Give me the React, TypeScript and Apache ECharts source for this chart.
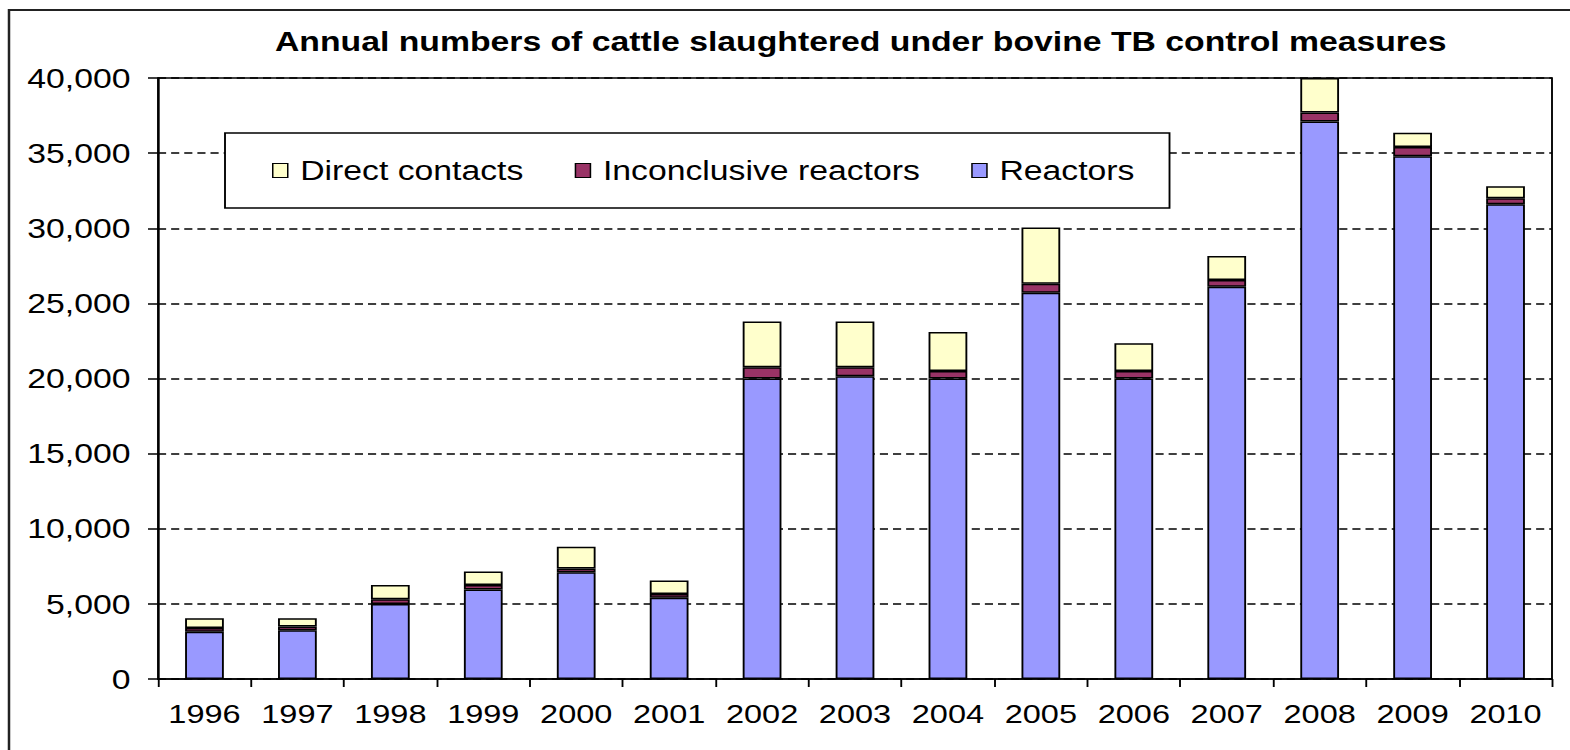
import React, { useEffect, useRef } from "react";
import * as echarts from "echarts";

const years = ["1996", "1997", "1998", "1999", "2000", "2001", "2002", "2003", "2004", "2005", "2006", "2007", "2008", "2009", "2010"];
const reactors = [3150, 3250, 5000, 5950, 7100, 5400, 20000, 20150, 20000, 25700, 20000, 26100, 37100, 34800, 31600];
const inconclusive = [250, 250, 300, 300, 250, 250, 750, 600, 500, 600, 500, 450, 600, 600, 400];
const direct = [650, 550, 950, 900, 1450, 900, 3050, 3050, 2600, 3750, 1850, 1600, 2300, 950, 800];

const TITLE = "Annual numbers of cattle slaughtered under bovine TB control measures";
const FONT = '"Liberation Sans", Arial, sans-serif';
const SX = 1.25;
const W = 1570 / SX;
const H = 750;

export default function App() {
  const ref = useRef<HTMLDivElement>(null);
  useEffect(() => {
    if (!ref.current) return;
    const chart = echarts.init(ref.current, null, { renderer: "svg" });
    const barStyle = (color: string) => ({ color, borderColor: "#000", borderWidth: 1.5 });
    chart.setOption({
      animation: false,
      backgroundColor: "#fff",
      textStyle: { fontFamily: FONT, color: "#000" },
      title: {
        text: TITLE,
        left: 220,
        top: 28,
        padding: 0,
        textStyle: { fontFamily: FONT, fontSize: 27, fontWeight: "bold", color: "#000" },
      },
      graphic: [
        {
          type: "rect",
          silent: true,
          shape: { x: 7.2, y: 10, width: 1400, height: 900 },
          style: { fill: "none", stroke: "#222", lineWidth: 2 },
        },
      ],
      legend: {
        data: ["Direct contacts", "Inconclusive reactors", "Reactors"],
        left: 180,
        top: 133,
        orient: "horizontal",
        padding: [24, 28, 24, 37.6],
        itemGap: 41,
        itemWidth: 12,
        itemHeight: 14,
        backgroundColor: "#fff",
        borderColor: "#000",
        borderWidth: 1.5,
        borderRadius: 0,
        icon: "rect",
        itemStyle: { borderColor: "#000", borderWidth: 1.2 },
        textStyle: { fontFamily: FONT, fontSize: 27, color: "#000", padding: [0, 0, 0, 5] },
      },
      grid: {
        left: 126.4,
        right: W - 1241.6,
        top: 78,
        bottom: H - 679,
        show: true,
        borderColor: "#000",
        borderWidth: 1.5,
        backgroundColor: "transparent",
      },
      xAxis: {
        type: "category",
        data: years,
        axisLine: { show: true, lineStyle: { color: "#000", width: 1.5 } },
        axisTick: { show: true, length: 8, alignWithLabel: false, lineStyle: { color: "#000", width: 1.5 } },
        axisLabel: { fontFamily: FONT, fontSize: 26, color: "#000", margin: 22, interval: 0 },
        splitLine: { show: false },
      },
      yAxis: {
        type: "value",
        min: 0,
        max: 40000,
        interval: 5000,
        axisLine: { show: true, lineStyle: { color: "#000", width: 1.5 } },
        axisTick: { show: true, length: 8, lineStyle: { color: "#000", width: 1.5 } },
        axisLabel: {
          fontFamily: FONT,
          fontSize: 27,
          color: "#000",
          margin: 22,
          formatter: (v: number) => v.toLocaleString("en-US"),
        },
        splitLine: { show: true, lineStyle: { color: "#000", width: 1.5, type: [6.5, 4] } },
      },
      series: [
        { name: "Reactors", type: "bar", stack: "total", barWidth: 31, data: reactors, itemStyle: barStyle("#9999FF") },
        { name: "Inconclusive reactors", type: "bar", stack: "total", barWidth: 31, data: inconclusive, itemStyle: barStyle("#993366") },
        { name: "Direct contacts", type: "bar", stack: "total", barWidth: 31, data: direct, itemStyle: barStyle("#FFFFCC") },
      ],
    });
    return () => chart.dispose();
  }, []);
  return (
    <div
      ref={ref}
      style={{
        position: "fixed",
        left: 0,
        top: 0,
        width: W,
        height: H,
        transform: `scaleX(${SX})`,
        transformOrigin: "0 0",
      }}
    />
  );
}
